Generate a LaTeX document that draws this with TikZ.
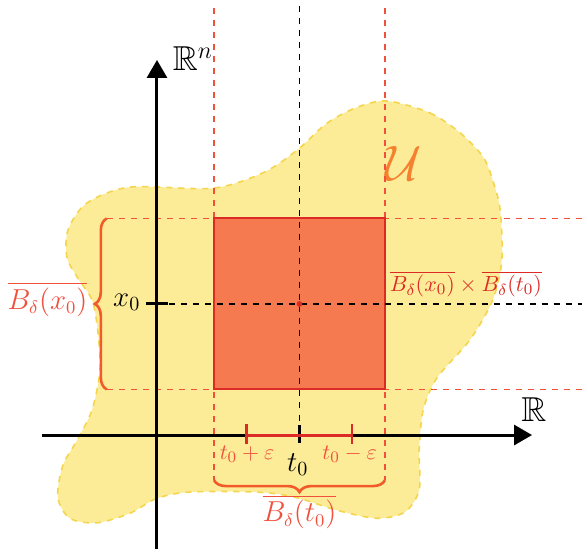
\documentclass[tikz,border=0pt]{standalone}
\usepackage{xcolor}
\usepackage{amsmath}
\usepackage{amssymb}
\usepackage{tikz}
\usetikzlibrary{arrows.meta,decorations.pathreplacing}
\definecolor{acikSari}{HTML}{FDEC97}
\definecolor{koyuSari}{HTML}{F3D54E}
\definecolor{kareTuruncu}{HTML}{F67A50}
\definecolor{kirmizi}{HTML}{DC2A26}
\definecolor{kesikKirmizi}{HTML}{F2503C}
\definecolor{parantez}{HTML}{F25A2A}
\definecolor{yaziKirmizi}{HTML}{F0503C}
\definecolor{uTuruncu}{HTML}{F5802F}
\tikzset{
  eksen/.style={line width=1.5pt,-{Triangle[length=9pt,width=10pt]}},
  kilavuz/.style={dashed,kesikKirmizi,line width=0.7pt},
  parantezCizgi/.style={parantez,line width=1.3pt,decorate,decoration={brace,amplitude=6pt}}
}

\begin{document}
\begin{tikzpicture}
\useasboundingbox (-2.754,-1.982) rectangle (7.456,7.632);
\filldraw[fill=acikSari,draw=koyuSari,dashed,thick] plot[smooth cycle] coordinates {
  (4.04,5.86) (4.79,5.65) (5.32,5.30) (5.72,4.88) (5.89,4.47) (6.02,3.95)
  (6.05,3.07) (5.89,2.37) (5.49,1.67) (4.91,1.00) (4.67,0.44) (4.60,-0.26)
  (4.60,-0.96) (4.35,-1.35) (3.86,-1.46) (3.16,-1.32) (2.42,-1.09) (1.75,-1.00)
  (0.58,-1.00) (0,-1.11) (-0.47,-1.37) (-1.05,-1.54) (-1.53,-1.46) (-1.74,-1.09)
  (-1.65,-0.53) (-1.40,-0.09) (-1.14,0.44) (-1.00,1.14) (-1.04,1.84) (-1.14,2.37)
  (-1.40,2.77) (-1.58,3.12) (-1.56,3.60) (-1.23,4.07) (-0.47,4.35) (0.98,4.33)
  (1.86,4.60) (2.46,5.00) (2.98,5.47) (3.51,5.75)};
\node[uTuruncu] (U) at (4.33,4.77) {\fontsize{28}{30}\selectfont $\mathcal{U}$};
% kilavuz cizgileri
\draw[kilavuz] (1,7.5)--(1,-0.79);
\draw[kilavuz] (4,7.5)--(4,-0.79);
\draw[kilavuz] (-0.88,3.8)--(7.46,3.8);
\draw[kilavuz] (-0.88,0.8)--(7.46,0.8);
\filldraw[fill=kareTuruncu,draw=kirmizi,line width=1pt] (1,0.8) rectangle (4,3.8);
\draw[dashed,line width=0.9pt] (2.5,7.53)--(2.5,0);
\draw[dashed,line width=0.9pt] (0,2.3)--(7.46,2.3);
\fill[kirmizi] (2.5,2.3) circle (0.05);
% eksenler
\draw[eksen] (-2.02,0)--(6.58,0);
\draw[eksen] (0,-2.1)--(0,6.58);
\node (R) at (6.61,0.44) {\LARGE $\mathbb{R}$};
\node (Rn) at (0.63,6.6) {\LARGE $\mathbb{R}^n$};
\draw[line width=1.5pt] (2.5,0.17)--(2.5,-0.14);
\draw[line width=1.5pt] (-0.19,2.3)--(0.19,2.3);
\node (x0) at (-0.53,2.33) {\Large $x_0$};
\node (t0) at (2.47,-0.52) {\Large $t_0$};
% aralik
\draw[kirmizi,line width=1.5pt] (1.57,0)--(3.42,0);
\draw[kirmizi,line width=1.2pt] (1.57,0.2)--(1.57,-0.16);
\draw[kirmizi,line width=1.2pt] (3.42,0.2)--(3.42,-0.16);
\node[yaziKirmizi] (tArti) at (1.58,-0.34) {\fontsize{11}{13}\selectfont $t_0+\varepsilon$};
\node[yaziKirmizi] (tEksi) at (3.38,-0.34) {\fontsize{11}{13}\selectfont $t_0-\varepsilon$};
% parantezler
\draw[parantezCizgi] (4,-0.79)--(1,-0.79);
\draw[parantezCizgi] (-0.88,0.8)--(-0.88,3.8);
\node[yaziKirmizi] (Bt) at (2.5,-1.35) {\fontsize{13.3}{16}\selectfont $\overline{B_\delta(t_0)}$};
\node[yaziKirmizi] (Bx) at (-1.92,2.38) {\fontsize{13.3}{16}\selectfont $\overline{B_\delta(x_0)}$};
\node[kirmizi] (BxBt) at (5.42,2.65) {\fontsize{10.8}{13}\selectfont $\overline{B_\delta(x_0)}\times\overline{B_\delta(t_0)}$};
\end{tikzpicture}
\end{document}
